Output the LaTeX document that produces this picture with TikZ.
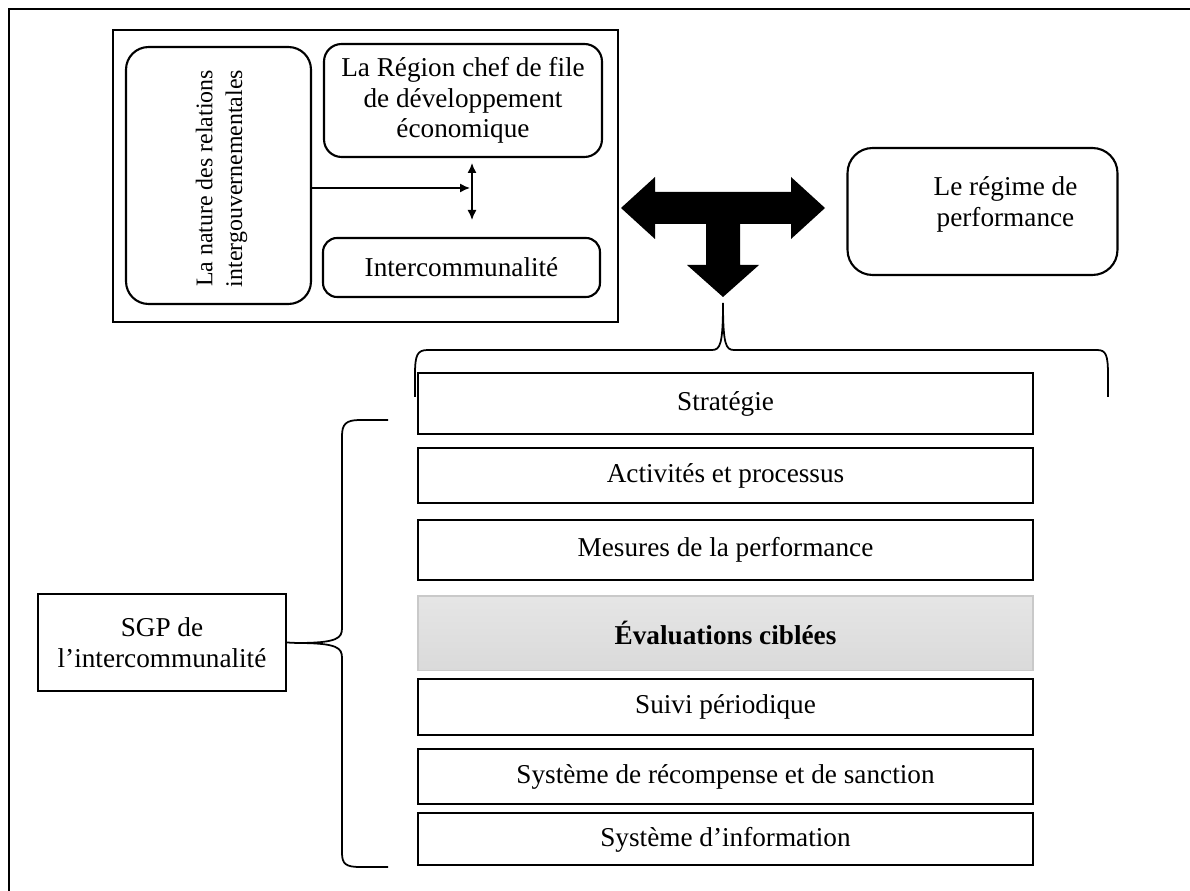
\documentclass[tikz,border=0pt]{standalone}
\usepackage{fontspec}
\setmainfont{Liberation Serif}
\usetikzlibrary{
    arrows.meta,
    positioning
}
\begin{document}
\begin{tikzpicture}[
x=0.02cm, y=-0.02cm,
font=\fontsize{15.5}{17.5}\selectfont,
rbox/.style={
draw,
line width=1.2pt,
rounded corners=0.35cm,
align=center
},
sbox/.style={
draw,
line width=1.2pt,
minimum width=12.3cm,
align=center
},
brace/.style={
line width=1pt
}
]
\useasboundingbox (0,0) rectangle (1190,891);

\draw[line width=1.1pt] (9,891) -- (9,9) -- (1190,9);

\node[draw, line width=1.2pt, minimum width=10.1cm, minimum height=5.84cm] (group) at (365.5,176) {};

\node[rbox, rounded corners=0.45cm, minimum width=3.7cm, minimum height=5.14cm] (nature) at (218.5,175.5) {};
\node[rotate=90, align=center, font=\fontsize{13.6}{17}\selectfont] (naturetxt) at ([shift={(3,3)}]nature.center)
{La nature des relations\\intergouvernementales};

\node[rbox, minimum width=5.56cm, minimum height=2.26cm] (region) at (463,100.5)
{La Région chef de file\\de développement\\économique};

\node[rbox, rounded corners=0.28cm, minimum width=5.54cm, minimum height=1.18cm] (inter) at (461.5,267.5)
{Intercommunalité};

\coordinate (vtop) at (472,163);
\coordinate (vmid) at (472,188);
\coordinate (vbot) at (472,220);

\draw[{Latex[length=2mm,width=1.8mm]}-{Latex[length=2mm,width=1.8mm]}, line width=0.8pt]
(vtop) -- (vbot);
\draw[-{Latex[length=2mm,width=1.8mm]}, line width=0.8pt]
(nature.east |- vmid) -- ([xshift=-0.04cm]vmid);

\node[rbox, rounded corners=0.5cm, minimum width=5.4cm, minimum height=2.54cm] (regime) at (982.5,211.5) {};
\node[align=center] (regimetxt) at ([shift={(23,-7)}]regime.center) {Le régime de\\performance};

\fill[shift={(723,208)}]
(-102,0) -- (-68,-31) -- (-68,-16) -- (68,-16) -- (68,-31) -- (102,0)
-- (68,31) -- (68,16) -- (17,16) -- (17,57) -- (36,57) -- (0,89)
-- (-36,57) -- (-17,57) -- (-17,16) -- (-68,16) -- (-68,31) -- cycle;

\coordinate (tip) at (723,303);
\draw[brace]
(415,397) -- (415,375) .. controls (415,355) and (417,350) .. (428,350)
-- (712,350) .. controls (720,350) and (723,345) .. (tip)
.. controls (723,345) and (726,350) .. (734,350)
-- (1097,350) .. controls (1106,350) and (1108,355) .. (1108,375) -- (1108,397);

\node[sbox, minimum height=1.22cm] (strat) at (725.5,403.5) {Stratégie};
\node[sbox, minimum height=1.1cm, below=0.24cm of strat] (activ) {Activités et processus};
\node[sbox, minimum height=1.2cm, below=0.3cm of activ] (mesures) {Mesures de la performance};
\node[sbox, draw=gray!42, line width=0.8pt, top color=gray!20, bottom color=gray!29,
minimum height=1.49cm, below=0.28cm of mesures] (eval) {\bfseries Évaluations ciblées};
\node[sbox, minimum height=1.12cm, below=0.14cm of eval] (suivi) {Suivi périodique};
\node[sbox, minimum height=1.1cm, below=0.24cm of suivi] (recomp) {Système de récompense et de sanction};
\node[sbox, minimum height=1.04cm, below=0.14cm of recomp] (info) {Système d’information};

\node[draw, line width=1.2pt, minimum width=4.96cm, minimum height=1.94cm, align=center] (sgp) at (162,642.5)
{SGP de\\l’intercommunalité};

\coordinate (ltip) at (297,643);
\draw[brace]
(388,420) -- (360,420) .. controls (346,420) and (342,424) .. (342,436)
-- (342,628) .. controls (342,638) and (338,643) .. (ltip)
.. controls (338,643) and (342,648) .. (342,658)
-- (342,853) .. controls (342,864) and (346,867) .. (360,867) -- (388,867);
\draw[brace] (sgp.east) -- (ltip);

\end{tikzpicture}
\end{document}
